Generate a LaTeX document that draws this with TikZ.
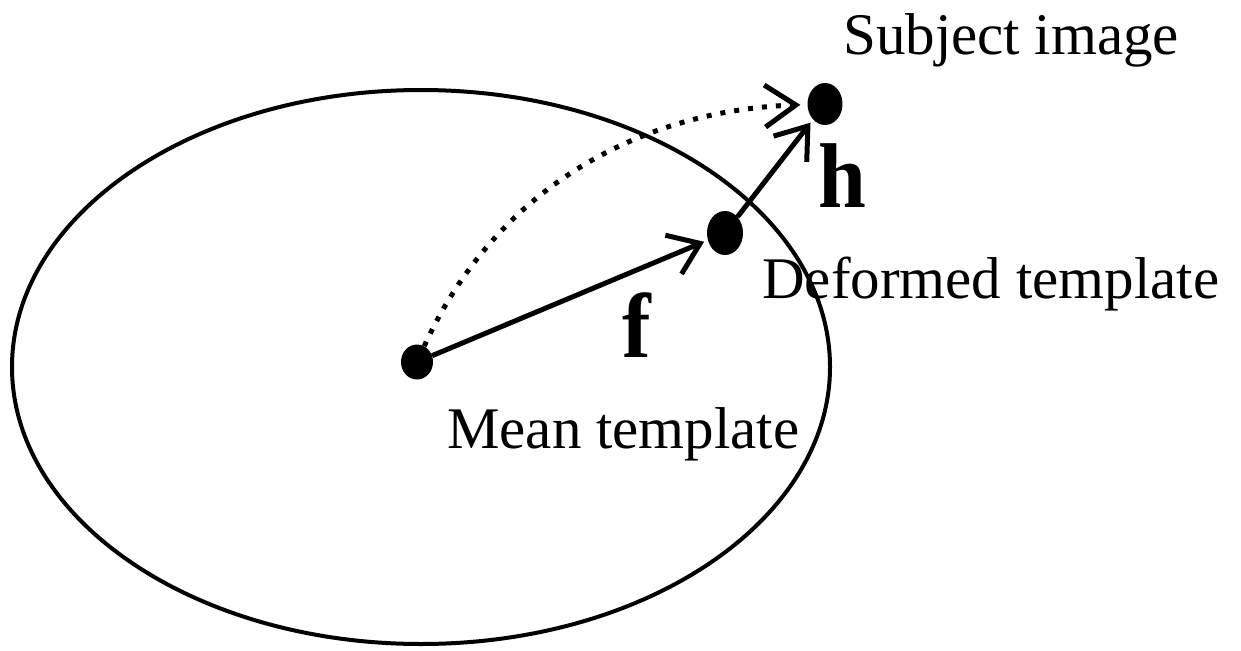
\documentclass[tikz,border=0pt]{standalone}
\usepackage{fontspec}
\setmainfont{Liberation Serif}
\usetikzlibrary{arrows.meta,shapes.geometric}
\begin{document}
\begin{tikzpicture}[x=1pt,y=-1pt,
  dotnode/.style={ellipse, fill=black, inner sep=0pt},
  lbl/.style={anchor=base west, inner sep=0pt, font=\fontsize{59}{70}\selectfont},
  vlbl/.style={anchor=base west, inner sep=0pt, font=\fontsize{86}{100}\selectfont\bfseries, yscale=1.07, transform shape},
  vec/.style={line width=5pt, -{Straight Barb[length=29pt,width=42pt,line width=5pt]}, shorten >=4pt},
  dotvec/.style={line width=5pt, dash pattern=on 5pt off 9pt, -{Straight Barb[length=31pt,width=42pt,line width=5pt]}, shorten >=7pt},
]
\useasboundingbox (0,0) rectangle (1241,650);
\node[ellipse, draw, line width=4pt, minimum width=818pt, minimum height=554pt, inner sep=0pt] (space) at (421,367) {};
\node[dotnode, minimum width=32pt, minimum height=35pt] (mean) at (417,362) {};
\node[dotnode, minimum width=36pt, minimum height=44pt] (def) at (725,233) {};
\node[dotnode, minimum width=35pt, minimum height=42pt] (subj) at (825,104) {};
\draw[vec] (mean) -- (def);
\draw[vec] (def) -- (subj);
\draw[dotvec] (mean) .. controls (500,180) and (650,110) .. (subj);
\node[lbl] (subjlbl) at (843,55) {Subject image};
\node[lbl] (deflbl) at (762,298) {Deformed template};
\node[lbl] (meanlbl) at (447,448) {Mean template};
\node[vlbl] (f) at (622,357) {f};
\node[vlbl] (h) at (818,207) {h};
\end{tikzpicture}
\end{document}
